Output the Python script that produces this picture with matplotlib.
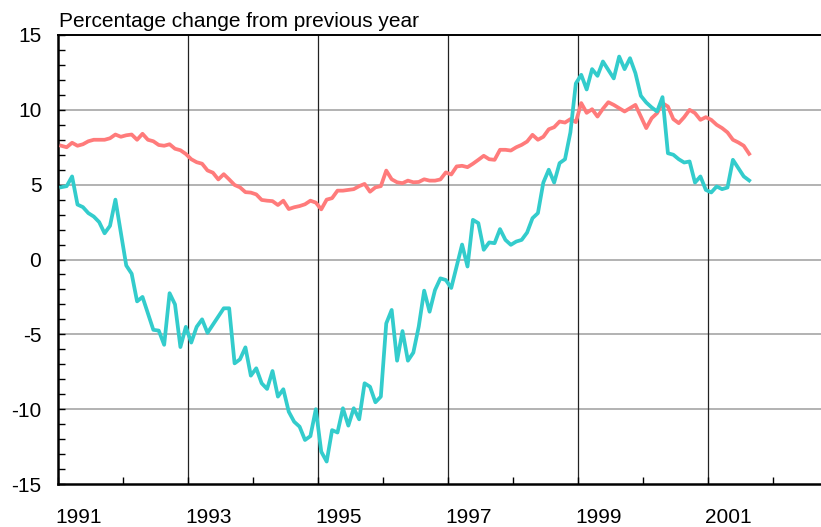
import numpy as np
import matplotlib
matplotlib.use("Agg")
import matplotlib.pyplot as plt
import matplotlib.transforms as mtransforms
from matplotlib.ticker import MultipleLocator

plt.rcParams["font.family"] = ["Liberation Sans", "DejaVu Sans"]
plt.rcParams["axes.unicode_minus"] = False

# monthly values, Jan 1991 - Aug 2001
start_year = 1991
red_series = [
    7.6, 7.5, 7.8, 7.6, 7.7, 7.9, 8.0, 8.0, 8.0, 8.1, 8.35, 8.2,
    8.3, 8.35, 8.0, 8.4, 8.0, 7.9, 7.65, 7.6, 7.7, 7.4, 7.3, 7.05,
    6.7, 6.5, 6.4, 5.95, 5.8, 5.35, 5.7, 5.35, 4.98, 4.82, 4.5, 4.47,
    4.35, 3.98, 3.93, 3.9, 3.64, 3.93, 3.37, 3.49, 3.57, 3.69, 3.93, 3.8,
    3.35, 4.0, 4.1, 4.6, 4.6, 4.65, 4.7, 4.9, 5.05, 4.53, 4.82, 4.9,
    5.94, 5.36, 5.16, 5.1, 5.27, 5.16, 5.18, 5.36, 5.27, 5.27, 5.35, 5.82,
    5.68, 6.22, 6.26, 6.17, 6.4, 6.66, 6.93, 6.7, 6.66, 7.33, 7.33, 7.28,
    7.5, 7.66, 7.88, 8.33, 8.0, 8.2, 8.7, 8.84, 9.22, 9.15, 9.38, 9.18,
    10.45, 9.8, 10.04, 9.55, 10.07, 10.51, 10.33, 10.11, 9.89, 10.11, 10.33, 9.55,
    8.78, 9.44, 9.78, 10.45, 10.22, 9.38, 9.11, 9.51, 10.0, 9.78, 9.33, 9.51,
    9.33, 9.0, 8.78, 8.49, 8.0, 7.82, 7.6, 7.06,
]
cyan_series = [
    4.83, 4.9, 5.55, 3.67, 3.5, 3.1, 2.87, 2.5, 1.75, 2.25, 4.0, 1.8,
    -0.4, -0.95, -2.8, -2.5, -3.6, -4.7, -4.75, -5.7, -2.25, -3.0, -5.85, -4.5,
    -5.55, -4.5, -4.0, -4.9, -4.35, -3.8, -3.26, -3.26, -6.94, -6.67, -5.87, -7.76,
    -7.27, -8.27, -8.65, -7.45, -9.16, -8.67, -10.17, -10.84, -11.17, -12.06, -11.8, -10.0,
    -12.84, -13.5, -11.4, -11.56, -9.94, -11.1, -9.94, -10.68, -8.27, -8.5, -9.54, -9.16,
    -4.27, -3.37, -6.76, -4.78, -6.76, -6.22, -4.48, -2.08, -3.49, -2.04, -1.26, -1.37,
    -1.9, -0.45, 1.0, -0.47, 2.65, 2.43, 0.65, 1.14, 1.09, 2.03, 1.31, 0.98,
    1.2, 1.31, 1.8, 2.76, 3.1, 5.14, 6.0, 5.14, 6.44, 6.7, 8.5, 11.76,
    12.34, 11.36, 12.72, 12.27, 13.23, 12.67, 12.1, 13.56, 12.72, 13.45, 12.45, 10.94,
    10.49, 10.16, 9.89, 10.85, 7.1, 7.0, 6.7, 6.48, 6.55, 5.14, 5.55, 4.65,
    4.48, 4.88, 4.7, 4.81, 6.66, 6.1, 5.55, 5.28,
]
year_labels = ["1991", "1993", "1995", "1997", "1999", "2001"]
title = "Percentage change from previous year"

months = start_year + (np.arange(len(red_series)) + 0.6) / 12

fig = plt.figure(figsize=(8.21, 5.27), dpi=100)
ax = fig.add_axes([58 / 821, 43 / 527, 763 / 821, 449 / 527])

ax.set_xlim(1991, 1991 + 763 / 65)
ax.set_ylim(-15, 15)

for y in [-10, -5, 0, 5, 10]:
    ax.axhline(y, color="#a6a6a6", lw=1.2, zorder=1)
for yr in [1993, 1995, 1997, 1999, 2001]:
    ax.axvline(yr, color="#222222", lw=0.9, zorder=1)

ax.plot(months, red_series, color="#ff7b7b", lw=2.7, zorder=3)
ax.plot(months, cyan_series, color="#33cccc", lw=2.7, zorder=3)

ax.yaxis.set_major_locator(MultipleLocator(5))
ax.yaxis.set_minor_locator(MultipleLocator(1))
ax.tick_params(axis="y", which="both", direction="in", length=5, width=1,
               labelsize=15, pad=12)
ax.set_xticks([int(s) for s in year_labels])
ax.set_xticklabels(year_labels)
ax.xaxis.set_minor_locator(MultipleLocator(1))
ax.tick_params(axis="x", which="both", direction="in", length=5, width=1,
               labelsize=15, pad=17)
shift = mtransforms.ScaledTranslation(-3 / 100, 0, fig.dpi_scale_trans)
for lab in ax.get_xticklabels():
    lab.set_ha("left")
    lab.set_transform(lab.get_transform() + shift)

for side in ["left", "bottom"]:
    ax.spines[side].set_linewidth(1.8)
ax.spines["top"].set_linewidth(1.4)
ax.spines["right"].set_visible(False)

fig.text(59 / 821, 1 - 27 / 527, title, fontsize=15, ha="left", va="baseline")

fig.savefig("out.png", dpi=100)
